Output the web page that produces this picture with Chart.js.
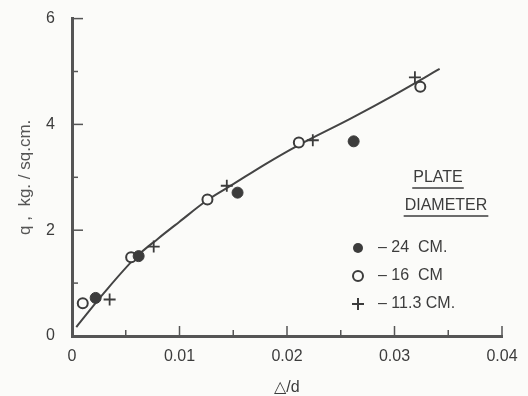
<!DOCTYPE html>
<html>
<head>
<meta charset="utf-8">
<script src="https://cdn.jsdelivr.net/npm/chart.js@4.4.0/dist/chart.umd.min.js"></script>
<style>
  html, body { margin: 0; background: #fbfbf9; }
  #wrap { width: 528px; height: 396px; }
</style>
</head>
<body>
<div id="wrap"><canvas id="chart" width="528" height="396"></canvas></div>
<script>
// readings: delta/d vs q (kg/sq.cm)
const plate24X = [0.0022, 0.0062, 0.0154, 0.0262];
const plate24Y = [0.72, 1.51, 2.71, 3.68];
const plate16X = [0.0010, 0.0055, 0.0126, 0.0211, 0.0324];
const plate16Y = [0.62, 1.49, 2.58, 3.66, 4.71];
const plate113X = [0.0035, 0.0076, 0.0144, 0.0224, 0.0319];
const plate113Y = [0.69, 1.69, 2.84, 3.70, 4.89];
const curveX = [0.0004, 0.003, 0.006, 0.008, 0.010, 0.0126, 0.015, 0.018, 0.021, 0.026, 0.030, 0.0342];
const curveY = [0.17, 0.82, 1.50, 1.84, 2.16, 2.57, 2.87, 3.25, 3.60, 4.12, 4.56, 5.05];
const legendTitle = ['PLATE', 'DIAMETER'];
const legendLabels = ['24  CM.', '16  CM', '11.3 CM.'];

const ink = '#3c3c3c';
const font = '"Liberation Sans", Arial, sans-serif';

const pts = (xs, ys) => xs.map((x, i) => ({ x, y: ys[i] }));

const innerTicks = {
  id: 'innerTicks',
  afterDraw(chart) {
    const { ctx, chartArea: a, scales: { x, y } } = chart;
    ctx.save();
    ctx.strokeStyle = '#555';
    ctx.lineWidth = 1.5;
    x.ticks.forEach(t => {
      if (t.value === 0) return;
      const px = x.getPixelForValue(t.value);
      const major = Math.abs(t.value * 100 - Math.round(t.value * 100)) < 1e-6;
      ctx.beginPath();
      ctx.moveTo(px, a.bottom);
      ctx.lineTo(px, a.bottom - (major ? 10 : 6));
      ctx.stroke();
    });
    y.ticks.forEach(t => {
      if (t.value === 0) return;
      const py = y.getPixelForValue(t.value);
      const major = t.value % 2 === 0;
      ctx.beginPath();
      ctx.moveTo(a.left, py);
      ctx.lineTo(a.left + (major ? 11 : 6), py);
      ctx.stroke();
    });
    ctx.restore();
  }
};

const plateLegend = {
  id: 'plateLegend',
  afterDraw(chart) {
    const ctx = chart.ctx;
    ctx.save();
    ctx.fillStyle = ink;
    ctx.strokeStyle = ink;
    ctx.font = '16px ' + font;
    ctx.textBaseline = 'middle';
    ctx.textAlign = 'center';
    [[438, 178], [446, 206]].forEach(([cx, cy], i) => {
      ctx.fillText(legendTitle[i], cx, cy);
      const w = ctx.measureText(legendTitle[i]).width;
      ctx.lineWidth = 1.5;
      ctx.beginPath();
      ctx.moveTo(cx - w / 2 - 1, cy + 10);
      ctx.lineTo(cx + w / 2 + 1, cy + 10);
      ctx.stroke();
    });
    ctx.textAlign = 'left';
    chart.data.datasets.slice(0, 3).forEach((ds, i) => {
      const cy = 248 + i * 28;
      const mx = 358;
      ctx.lineWidth = 2;
      ctx.beginPath();
      if (ds.pointStyle === 'cross') {
        ctx.moveTo(mx - 6, cy); ctx.lineTo(mx + 6, cy);
        ctx.moveTo(mx, cy - 6); ctx.lineTo(mx, cy + 6);
        ctx.stroke();
      } else {
        ctx.arc(mx, cy, 5, 0, Math.PI * 2);
        if (ds.backgroundColor === ink) ctx.fill(); else ctx.stroke();
      }
      ctx.fillText('\u2013 ' + legendLabels[i], 378, cy);
    });
    ctx.restore();
  }
};

new Chart(document.getElementById('chart'), {
  type: 'scatter',
  data: {
    datasets: [
      { label: legendLabels[0], data: pts(plate24X, plate24Y), pointStyle: 'circle', pointRadius: 5.5,
        backgroundColor: ink, borderColor: ink, borderWidth: 1 },
      { label: legendLabels[1], data: pts(plate16X, plate16Y), pointStyle: 'circle', pointRadius: 5,
        backgroundColor: '#fbfbf9', borderColor: ink, borderWidth: 2 },
      { label: legendLabels[2], data: pts(plate113X, plate113Y), pointStyle: 'cross', pointRadius: 6,
        borderColor: ink, borderWidth: 1.8 },
      { label: 'curve', data: pts(curveX, curveY), showLine: true, pointRadius: 0,
        borderColor: '#444', borderWidth: 2, cubicInterpolationMode: 'monotone' }
    ]
  },
  options: {
    responsive: false,
    animation: false,
    layout: { padding: { top: 14, right: 26, left: 0, bottom: 0 } },
    plugins: { legend: { display: false }, tooltip: { enabled: false } },
    scales: {
      x: {
        type: 'linear', min: 0, max: 0.04,
        afterFit: s => { s.height = 60; },
        grid: { display: false },
        border: { display: true, width: 3, color: '#555' },
        ticks: {
          stepSize: 0.005, color: ink, padding: 3,
          font: { size: 16, family: font },
          callback: v => {
            const r = Math.round(v * 1000) / 1000;
            if (Math.abs(r * 100 - Math.round(r * 100)) > 1e-6) return '';
            return r === 0 ? '0' : r.toFixed(2);
          }
        },
        title: { display: true, text: '\u25B3/d', color: ink, font: { size: 16, family: font }, padding: { top: 10, bottom: -1 } }
      },
      y: {
        type: 'linear', min: 0, max: 6,
        afterFit: s => { s.width = 72; },
        grid: { display: false },
        border: { display: true, width: 3, color: '#555' },
        ticks: {
          stepSize: 1, color: ink, padding: 9,
          font: { size: 16, family: font },
          callback: v => (v % 2 === 0 ? String(v) : '')
        },
        title: { display: true, text: 'q ,  kg. / sq.cm.', color: '#555', font: { size: 17, family: font }, padding: { top: 15, bottom: 0 } }
      }
    }
  },
  plugins: [innerTicks, plateLegend]
});
</script>
</body>
</html>
